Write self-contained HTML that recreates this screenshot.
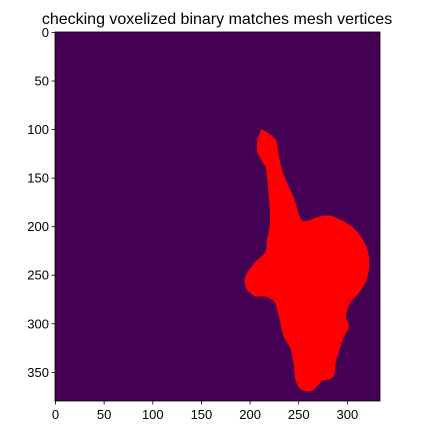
<!DOCTYPE html>
<html><head><meta charset="utf-8"><style>
html,body{margin:0;padding:0;background:#fff;}
svg{display:block;font-family:"Liberation Sans","DejaVu Sans",sans-serif;}
</style></head><body>
<svg id="chart" width="434" height="435" viewBox="0 0 434 435">
<text x="217" y="24" text-anchor="middle" font-size="16" fill="#000">checking voxelized binary matches mesh vertices</text>
<rect id="bg" fill="#440154"/>
<g id="marks"></g>
<g id="axes"></g>
</svg>
<script>
const imgWidth = 334;
const imgHeight = 380;
const xTicks = [0, 50, 100, 150, 200, 250, 300];
const yTicks = [0, 50, 100, 150, 200, 250, 300, 350];
const blobX = [213,225,227,232,244,253,272,285,306,318,321,318,310,301,297,300,295,290,287,284,274,266,261,253,248,246,243,236,232,227,220,213,205,197,197,207,217,219,222,221,218,215,209,209,212];
const blobY = [102,111,121,144,172,195,191,191,203,221,237,255,268,278,293,303,313,327,337,354,357,365,368,366,357,340,325,313,296,278,272,270,270,262,251,237,227,213,196,172,141,134,123,111,103];

const L = 55, T = 32, R = 380, B = 401;
const sx = v => L + (v + 0.5) * (R - L) / imgWidth;
const sy = v => T + (v + 0.5) * (B - T) / imgHeight;
const NS = "http://www.w3.org/2000/svg";
const bg = document.getElementById('bg');
bg.setAttribute('x', L); bg.setAttribute('y', T);
bg.setAttribute('width', R - L); bg.setAttribute('height', B - T);

const pts = blobX.map((x, i) => [sx(x), sy(blobY[i])]);
const n = pts.length;
let d = 'M' + pts[0][0].toFixed(1) + ',' + pts[0][1].toFixed(1);
for (let i = 0; i < n; i++) {
  const p0 = pts[(i - 1 + n) % n], p1 = pts[i], p2 = pts[(i + 1) % n], p3 = pts[(i + 2) % n];
  const c1 = [p1[0] + (p2[0] - p0[0]) / 6, p1[1] + (p2[1] - p0[1]) / 6];
  const c2 = [p2[0] - (p3[0] - p1[0]) / 6, p2[1] - (p3[1] - p1[1]) / 6];
  d += ' C' + c1[0].toFixed(1) + ',' + c1[1].toFixed(1) + ' ' + c2[0].toFixed(1) + ',' + c2[1].toFixed(1) + ' ' + p2[0].toFixed(1) + ',' + p2[1].toFixed(1);
}
d += 'Z';
const marks = document.getElementById('marks');
const blob = document.createElementNS(NS, 'path');
blob.setAttribute('d', d);
blob.setAttribute('fill', '#ff0000');
blob.setAttribute('stroke', '#ff0000');
blob.setAttribute('stroke-width', '3');
blob.setAttribute('stroke-linejoin', 'round');


marks.appendChild(blob);

const axes = document.getElementById('axes');
const frame = document.createElementNS(NS, 'rect');
frame.setAttribute('x', L); frame.setAttribute('y', T);
frame.setAttribute('width', R - L); frame.setAttribute('height', B - T);
frame.setAttribute('fill', 'none'); frame.setAttribute('stroke', '#000'); frame.setAttribute('stroke-width', '0.8');


axes.appendChild(frame);

xTicks.forEach(t => {
  const x = sx(t);
  const ln = document.createElementNS(NS, 'line');
  ln.setAttribute('x1', x); ln.setAttribute('x2', x); ln.setAttribute('y1', B); ln.setAttribute('y2', B + 3.5);
  ln.setAttribute('stroke', '#000'); ln.setAttribute('stroke-width', '0.8');
  
  
  axes.appendChild(ln);
  const tx = document.createElementNS(NS, 'text');
  tx.setAttribute('x', x); tx.setAttribute('y', B + 18);
  tx.setAttribute('text-anchor', 'middle'); tx.setAttribute('font-size', '13');
  tx.textContent = t;
  
  
  axes.appendChild(tx);
});
yTicks.forEach(t => {
  const y = sy(t);
  const ln = document.createElementNS(NS, 'line');
  ln.setAttribute('x1', L - 3.5); ln.setAttribute('x2', L); ln.setAttribute('y1', y); ln.setAttribute('y2', y);
  ln.setAttribute('stroke', '#000'); ln.setAttribute('stroke-width', '0.8');
  
  
  axes.appendChild(ln);
  const tx = document.createElementNS(NS, 'text');
  tx.setAttribute('x', L - 6); tx.setAttribute('y', y + 4.5);
  tx.setAttribute('text-anchor', 'end'); tx.setAttribute('font-size', '13');
  tx.textContent = t;
  
  
  axes.appendChild(tx);
});
</script>
</body></html>
